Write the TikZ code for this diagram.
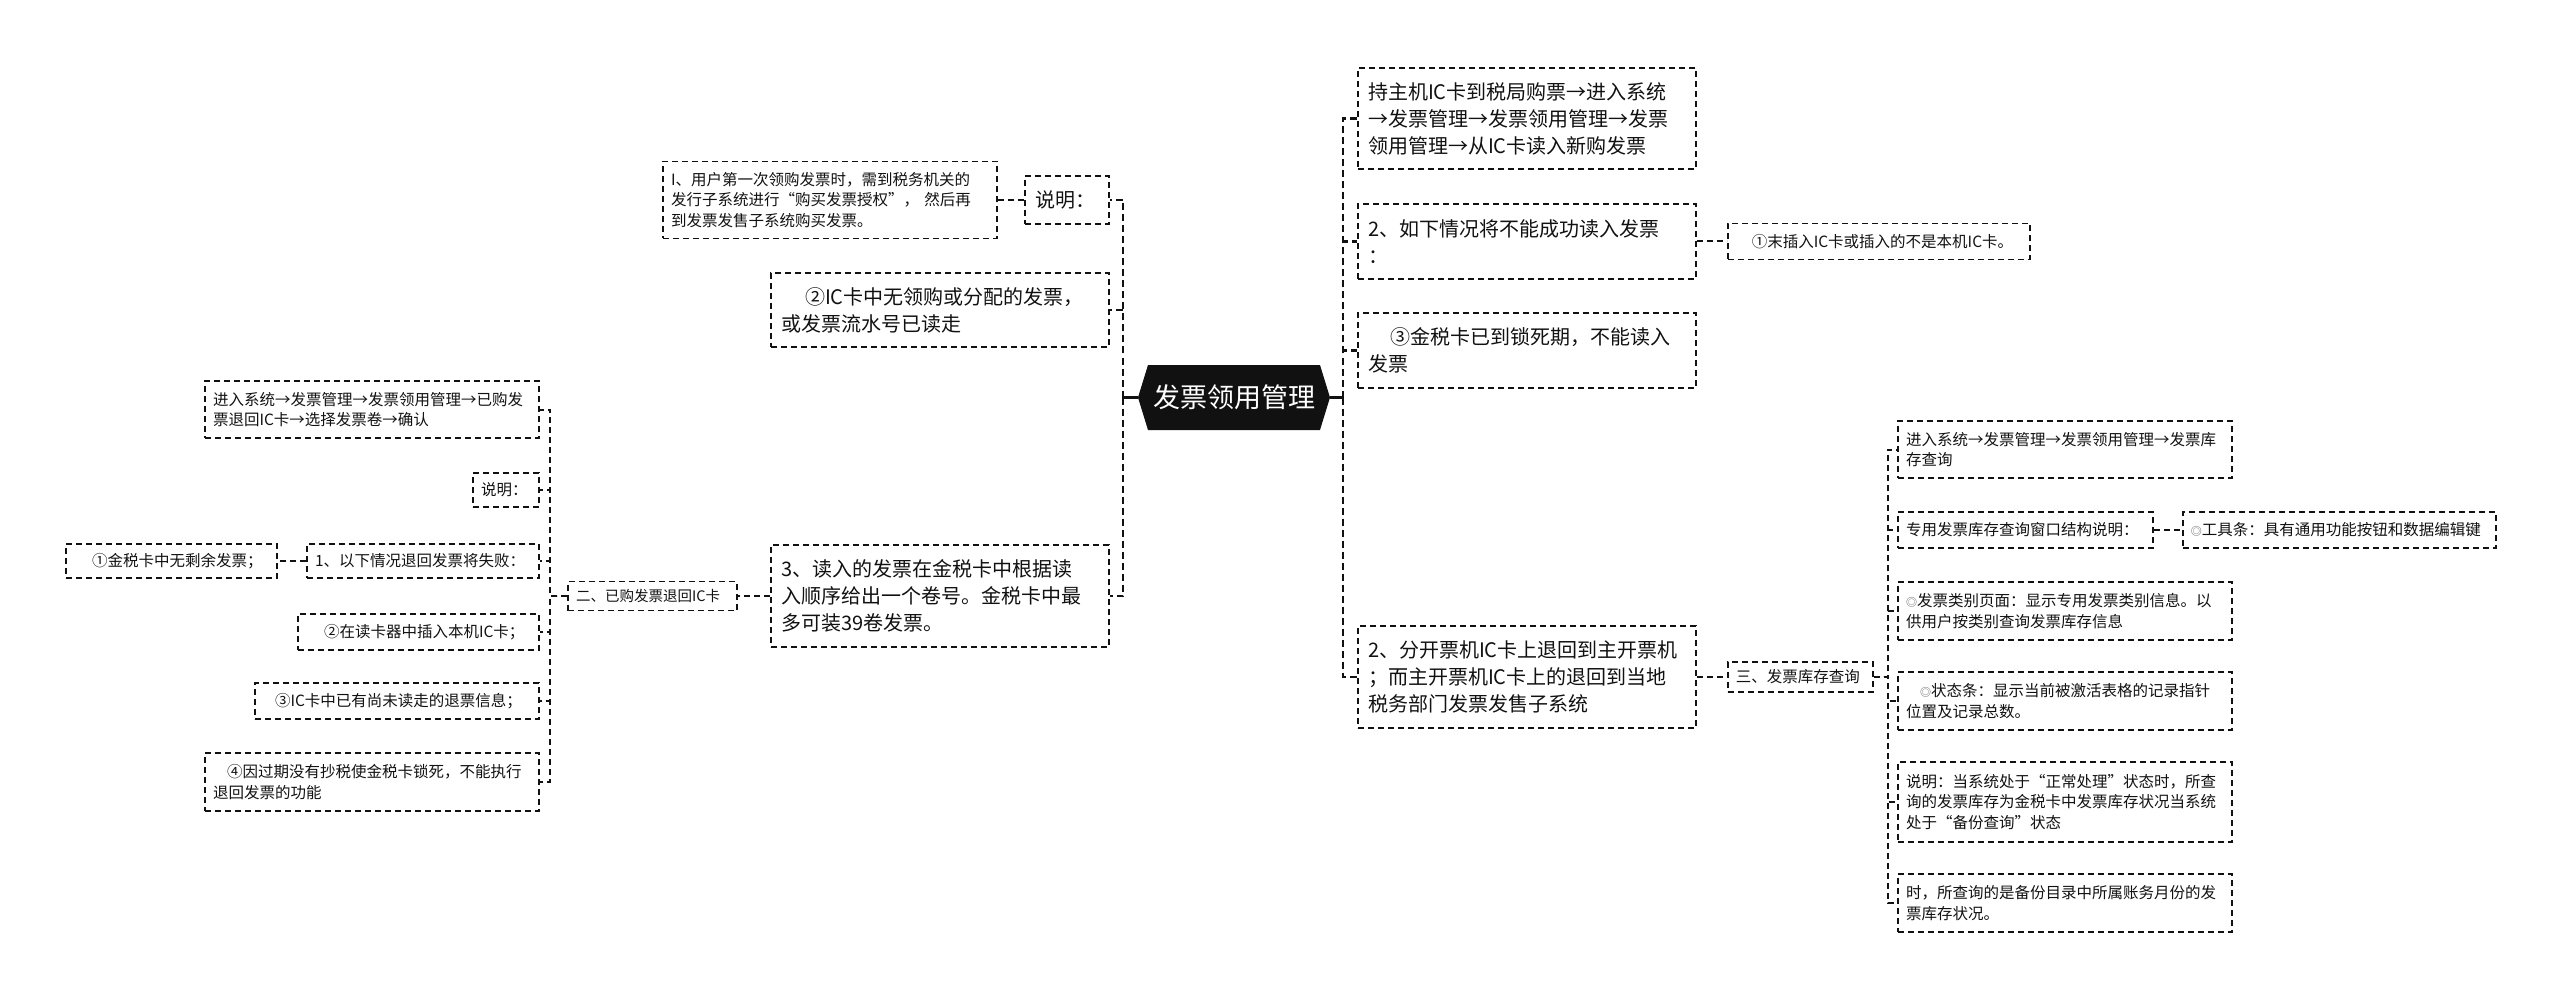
\documentclass[tikz,border=0pt]{standalone}
\usepackage{fontspec}
\usepackage{xcolor}
\usepackage{tikz}
\usetikzlibrary{positioning}
\newfontfamily\cjk{Noto Sans CJK SC}
\definecolor{ink}{HTML}{111111}
\newcommand\dcirc{{\color{ink!70}\fontsize{11}{11}\selectfont ◎}}

\begin{document}
\begin{tikzpicture}[
  x=1pt, y=-1pt,
  dbox/.style={draw=ink, line width=1.8pt, dash pattern=on 6pt off 4pt, align=left, text=ink},
  bigbox/.style={dbox, inner xsep=10pt, inner ysep=4pt, font=\cjk\fontsize{20}{27}\selectfont},
  leafbox/.style={dbox, inner xsep=8pt, inner ysep=3pt, font=\cjk\fontsize{15.5}{20.5}\selectfont},
  hub/.style={minimum width=192pt, minimum height=65pt, inner sep=0pt, text=white,
    font=\cjk\fontsize{27}{32}\selectfont,
    path picture={\fill[ink] (path picture bounding box.west)
      -- ([xshift=10pt]path picture bounding box.north west)
      -- ([xshift=-10pt]path picture bounding box.north east)
      -- (path picture bounding box.east)
      -- ([xshift=-10pt]path picture bounding box.south east)
      -- ([xshift=10pt]path picture bounding box.south west) -- cycle;}},
  rootlink/.style={line width=2.6pt, color=ink},
  trunk/.style={line width=2.6pt, color=ink, dash pattern=on 7pt off 4pt},
  link/.style={line width=2pt, color=ink, dash pattern=on 6pt off 4pt}
]
  \useasboundingbox (0,0) rectangle (2560,1000);

  % Root
  \node[hub] (root) at (1234,397.5) {发票领用管理};
  \coordinate (lt) at (1123,397.5);
  \coordinate (rt) at (1343,397.5);

  % Left branches
  \node[bigbox, text width=64pt, minimum height=48pt] (sm1) at (1067,200) {说明：};
  \node[leafbox, text width=318pt, minimum height=77pt, left=26pt of sm1] (usr)
    {I、用户第一次领购发票时，需到税务机关的\\发行子系统进行“购买发票授权”， 然后再\\到发票发售子系统购买发票。};
  \node[bigbox, text width=318pt, minimum height=74pt] (icno) at (940,310)
    {\hspace*{24pt}②IC卡中无领购或分配的发票，\\或发票流水号已读走};
  \node[bigbox, text width=318pt, minimum height=102pt] (rd) at (940,596)
    {3、读入的发票在金税卡中根据读\\入顺序给出一个卷号。金税卡中最\\多可装39卷发票。};
  \node[leafbox, text width=153pt, minimum height=29pt, left=32pt of rd,
        font=\cjk\fontsize{14.5}{19}\selectfont] (ret) {二、已购发票退回IC卡};

  % Returning the card
  \node[leafbox, text width=318pt, minimum height=57pt] (ent) at (372,409.5)
    {进入系统→发票管理→发票领用管理→已购发\\票退回IC卡→选择发票卷→确认};
  \node[leafbox, text width=50pt, minimum height=34pt] (sm2) at (506,490) {说明：};
  \node[leafbox, text width=216pt, minimum height=34pt] (fail) at (423,561) {1、以下情况退回发票将失败：};
  \node[leafbox, text width=195pt, minimum height=34pt, left=28pt of fail] (nl)
    {\hspace*{18pt}①金税卡中无剩余发票；};
  \node[leafbox, text width=225pt, minimum height=36pt] (ins) at (418.5,632)
    {\hspace*{18pt}②在读卡器中插入本机IC卡；};
  \node[leafbox, text width=268pt, minimum height=36pt] (unr) at (397,701)
    {\hspace*{12pt}③IC卡中已有尚未读走的退票信息；};
  \node[leafbox, text width=318pt, minimum height=58pt] (lck) at (372,782)
    {\hspace*{14pt}④因过期没有抄税使金税卡锁死，不能执行\\退回发票的功能};

  % Right branches
  \node[bigbox, text width=318pt, minimum height=101pt] (buy) at (1527,118.5)
    {持主机IC卡到税局购票→进入系统\\→发票管理→发票领用管理→发票\\领用管理→从IC卡读入新购发票};
  \node[bigbox, text width=318pt, minimum height=75pt] (rdf) at (1527,241.5)
    {2、如下情况将不能成功读入发票\\：};
  \node[leafbox, text width=286pt, minimum height=36pt, right=30pt of rdf] (nic)
    {\hspace*{16pt}①末插入IC卡或插入的不是本机IC卡。};
  \node[bigbox, text width=318pt, minimum height=75pt] (lkd) at (1527,350.5)
    {\hspace*{22pt}③金税卡已到锁死期，不能读入\\发票};
  \node[bigbox, text width=318pt, minimum height=102pt] (sub) at (1527,677)
    {2、分开票机IC卡上退回到主开票机\\；而主开票机IC卡上的退回到当地\\税务部门发票发售子系统};
  \node[leafbox, text width=129pt, minimum height=30pt, right=30pt of sub] (inv) {三、发票库存查询};

  % Stock query
  \node[leafbox, text width=318pt, minimum height=57pt] (enq) at (2065,449.5)
    {进入系统→发票管理→发票领用管理→发票库\\存查询};
  \node[leafbox, text width=239pt, minimum height=36pt] (win) at (2025.5,530) {专用发票库存查询窗口结构说明：};
  \node[leafbox, text width=297pt, minimum height=36pt, right=28pt of win] (bar)
    {\dcirc 工具条：具有通用功能按钮和数据编辑键};
  \node[leafbox, text width=318pt, minimum height=58pt] (cat) at (2065,611)
    {\dcirc 发票类别页面：显示专用发票类别信息。以\\供用户按类别查询发票库存信息};
  \node[leafbox, text width=318pt, minimum height=58pt] (sta) at (2065,701)
    {\hspace*{14pt}\dcirc 状态条：显示当前被激活表格的记录指针\\位置及记录总数。};
  \node[leafbox, text width=318pt, minimum height=80pt] (nt) at (2065,802)
    {说明：当系统处于“正常处理”状态时，所查\\询的发票库存为金税卡中发票库存状况当系统\\处于“备份查询”状态};
  \node[leafbox, text width=318pt, minimum height=58pt] (tm) at (2065,903)
    {时，所查询的是备份目录中所属账务月份的发\\票库存状况。};

  % Connectors from the root
  \draw[rootlink] (root.west) -- (lt);
  \draw[rootlink] (root.east) -- (rt);
  \draw[trunk] (lt) |- (sm1.east);
  \draw[trunk] (lt) |- (icno.east);
  \draw[trunk] (lt) |- (rd.east);
  \draw[trunk] (rt) |- (buy.west);
  \draw[trunk] (rt) |- (rdf.west);
  \draw[trunk] (rt) |- (lkd.west);
  \draw[trunk] (rt) |- (sub.west);

  % Deeper connectors
  \draw[link] (sm1.west) -- ++(-13,0) |- (usr.east);
  \draw[link] (rd.west) -- ++(-17,0) |- (ret.east);
  \draw[link] (ret.west) -- ++(-17,0) |- (ent.east);
  \draw[link] (ret.west) -- ++(-17,0) |- (sm2.east);
  \draw[link] (ret.west) -- ++(-17,0) |- (fail.east);
  \draw[link] (ret.west) -- ++(-17,0) |- (ins.east);
  \draw[link] (ret.west) -- ++(-17,0) |- (unr.east);
  \draw[link] (ret.west) -- ++(-17,0) |- (lck.east);
  \draw[link] (fail.west) -- ++(-14,0) |- (nl.east);
  \draw[link] (rdf.east) -- ++(15,0) |- (nic.west);
  \draw[link] (sub.east) -- ++(15,0) |- (inv.west);
  \draw[link] (inv.east) -- ++(14,0) |- (enq.west);
  \draw[link] (inv.east) -- ++(14,0) |- (win.west);
  \draw[link] (inv.east) -- ++(14,0) |- (cat.west);
  \draw[link] (inv.east) -- ++(14,0) |- (sta.west);
  \draw[link] (inv.east) -- ++(14,0) |- (nt.west);
  \draw[link] (inv.east) -- ++(14,0) |- (tm.west);
  \draw[link] (win.east) -- ++(14,0) |- (bar.west);
\end{tikzpicture}
\end{document}
